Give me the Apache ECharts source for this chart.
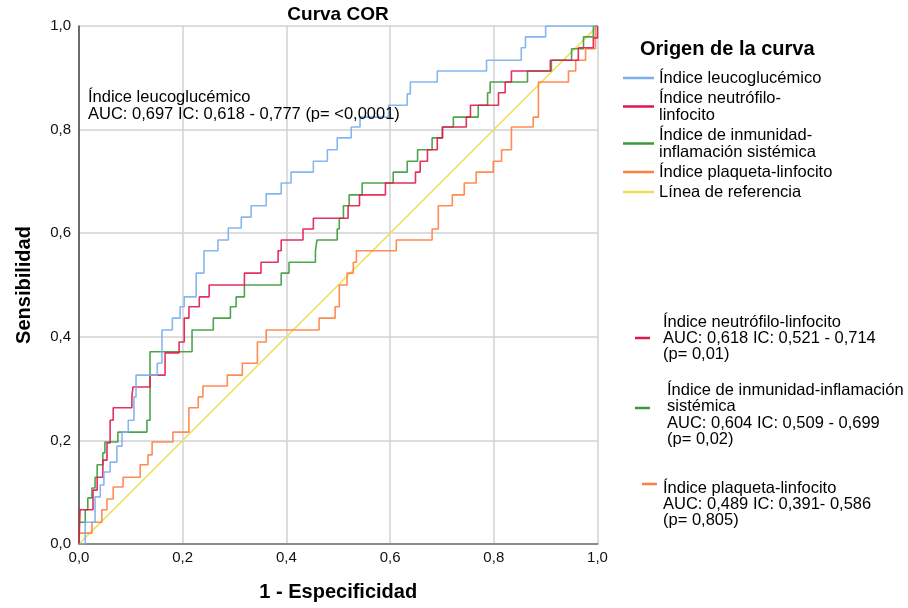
<!DOCTYPE html>
<html>
<head>
<meta charset="utf-8">
<script src="https://cdn.jsdelivr.net/npm/echarts@6/dist/echarts.min.js"></script>
<style>html,body{margin:0;padding:0;background:#fff;}#c{width:908px;height:608px;}</style>
</head>
<body>
<div id="c"></div>
<script>
// ROC step vertices: [1 - especificidad at the jump, sensibilidad after the jump]
const leucoROC = [[0,0],[0.012,0.042],[0.031,0.091],[0.041,0.114],[0.048,0.139],[0.060,0.158],[0.073,0.189],[0.083,0.216],[0.095,0.239],[0.106,0.284],[0.110,0.326],[0.151,0.349],[0.160,0.413],[0.180,0.436],[0.195,0.458],[0.203,0.477],[0.226,0.523],[0.241,0.566],[0.268,0.587],[0.288,0.610],[0.313,0.631],[0.332,0.653],[0.361,0.676],[0.390,0.697],[0.409,0.718],[0.452,0.739],[0.479,0.761],[0.498,0.784],[0.525,0.805],[0.542,0.824],[0.597,0.847],[0.633,0.869],[0.639,0.892],[0.691,0.913],[0.786,0.934],[0.853,0.958],[0.861,0.979],[0.900,1],[1,1]];
const nlrROC = [[0,0],[0.002,0.066],[0.027,0.104],[0.035,0.129],[0.046,0.162],[0.054,0.195],[0.060,0.239],[0.066,0.263],[0.102,0.284],[0.104,0.303],[0.137,0.326],[0.166,0.369],[0.193,0.390],[0.203,0.436],[0.212,0.458],[0.232,0.477],[0.251,0.500],[0.319,0.523],[0.351,0.544],[0.384,0.566],[0.390,0.587],[0.432,0.608],[0.452,0.629],[0.519,0.653],[0.541,0.674],[0.591,0.697],[0.649,0.718],[0.658,0.739],[0.672,0.761],[0.691,0.784],[0.701,0.805],[0.747,0.824],[0.755,0.847],[0.809,0.871],[0.822,0.892],[0.834,0.913],[0.909,0.934],[0.963,0.958],[0.992,0.977],[1,1]];
const siiROC = [[0,0],[0,0.042],[0.012,0.066],[0.017,0.089],[0.025,0.108],[0.031,0.129],[0.035,0.153],[0.046,0.176],[0.050,0.197],[0.075,0.216],[0.131,0.239],[0.137,0.371],[0.218,0.413],[0.259,0.436],[0.292,0.458],[0.303,0.477],[0.319,0.500],[0.390,0.523],[0.405,0.544],[0.456,0.566],[0.459,0.587],[0.498,0.608],[0.502,0.629],[0.510,0.653],[0.521,0.674],[0.546,0.697],[0.606,0.718],[0.633,0.739],[0.653,0.761],[0.681,0.784],[0.701,0.805],[0.722,0.824],[0.770,0.847],[0.788,0.871],[0.793,0.892],[0.865,0.913],[0.911,0.934],[0.950,0.956],[0.973,0.979],[0.992,1],[1,1]];
const plrROC = [[0,0],[0,0.021],[0.025,0.042],[0.044,0.066],[0.054,0.087],[0.066,0.110],[0.085,0.129],[0.118,0.153],[0.133,0.172],[0.141,0.197],[0.181,0.216],[0.212,0.263],[0.230,0.284],[0.239,0.305],[0.286,0.326],[0.315,0.349],[0.344,0.390],[0.361,0.413],[0.463,0.436],[0.494,0.458],[0.502,0.500],[0.517,0.523],[0.529,0.544],[0.535,0.566],[0.612,0.587],[0.681,0.608],[0.693,0.653],[0.720,0.674],[0.743,0.697],[0.766,0.718],[0.799,0.739],[0.815,0.761],[0.834,0.805],[0.876,0.824],[0.886,0.892],[0.944,0.913],[0.958,0.934],[0.977,0.956],[0.996,1],[1,1]];
const refLine = [[0,0],[1,1]];

const seriesNames = ['Índice leucoglucémico','Índice neutrófilo-\nlinfocito','Índice de inmunidad-\ninflamación sistémica','Índice plaqueta-linfocito','Línea de referencia'];
const seriesColors = ['#7aaeee','#e0194c','#3a9a3a','#ff7f40','#ece05a'];
const seriesData = [leucoROC, nlrROC, siiROC, plrROC, refLine];

const chartTitle = 'Curva COR';
const legendTitle = 'Origen de la curva';
const xName = '1 - Especificidad';
const yName = 'Sensibilidad';
const leucoNote = 'Índice leucoglucémico\nAUC: 0,697 IC: 0,618 - 0,777 (p= <0,0001)';
const nlrNote = 'Índice neutrófilo-linfocito\nAUC: 0,618 IC: 0,521 - 0,714\n(p= 0,01)';
const siiNote = 'Índice de inmunidad-inflamación\nsistémica\nAUC: 0,604 IC: 0,509 - 0,699\n(p= 0,02)';
const plrNote = 'Índice plaqueta-linfocito\nAUC: 0,489 IC: 0,391- 0,586\n(p= 0,805)';

const FONT = '"Liberation Sans", Arial, Helvetica, sans-serif';
const fmt = v => v.toFixed(1).replace('.', ',');

const chart = echarts.init(document.getElementById('c'), null, {renderer: 'canvas'});

const series = seriesData.map((d, i) => ({
  name: seriesNames[i],
  type: 'line',
  data: d,
  step: i < 4 ? 'end' : false,
  showSymbol: false,
  symbol: 'none',
  silent: true,
  z: 10 - i,
  lineStyle: {color: seriesColors[i], width: 1.6, opacity: i < 4 ? 0.9 : 1},
  itemStyle: {color: seriesColors[i]}
}));

chart.setOption({
  animation: false,
  backgroundColor: '#fff',
  textStyle: {fontFamily: FONT},
  grid: {left: 79, right: 310.5, top: 26, bottom: 64, containLabel: false},
  xAxis: {
    type: 'value', min: 0, max: 1, interval: 0.2,
    name: xName, nameLocation: 'middle', nameGap: 38,
    nameTextStyle: {fontFamily: FONT, fontWeight: 'bold', fontSize: 20, color: '#000'},
    axisLine: {show: true, onZero: false, lineStyle: {color: '#8a8a8a', width: 2}},
    axisTick: {show: false},
    axisLabel: {formatter: fmt, fontSize: 15, color: '#111', margin: 6, fontFamily: FONT},
    splitLine: {show: true, lineStyle: {color: '#d2d2d2', width: 1.5}}
  },
  yAxis: {
    type: 'value', min: 0, max: 1, interval: 0.2,
    name: yName, nameLocation: 'middle', nameGap: 45,
    nameTextStyle: {fontFamily: FONT, fontWeight: 'bold', fontSize: 20, color: '#000'},
    axisLine: {show: true, onZero: false, lineStyle: {color: '#444', width: 1.5}},
    axisTick: {show: false},
    axisLabel: {formatter: fmt, fontSize: 15, color: '#111', margin: 8, fontFamily: FONT},
    splitLine: {show: true, lineStyle: {color: '#d2d2d2', width: 1.5}}
  },
  legend: {
    show: true,
    orient: 'vertical',
    left: 623, top: 69.5,
    padding: 0,
    itemWidth: 31, itemHeight: 2.5, itemGap: 3,
    icon: 'rect',
    data: seriesNames,
    selectedMode: false,
    textStyle: {fontFamily: FONT, fontSize: 16.5, lineHeight: 17, color: '#000'}
  },
  graphic: [
    {type: 'text', x: 338, y: 15, style: {text: chartTitle, font: 'bold 19px ' + FONT, fill: '#000', align: 'center', verticalAlign: 'middle'}},
    {type: 'text', x: 640, y: 49, style: {text: legendTitle, font: 'bold 20px ' + FONT, fill: '#000', align: 'left', verticalAlign: 'middle'}},
    {type: 'text', x: 88, y: 88.5, z: 20, style: {text: leucoNote, font: '16.5px ' + FONT, lineHeight: 17, fill: '#000', align: 'left', verticalAlign: 'top'}},
    {type: 'line', shape: {x1: 635, y1: 338, x2: 650, y2: 338}, style: {stroke: seriesColors[1], lineWidth: 2.5}},
    {type: 'text', x: 663, y: 314, style: {text: nlrNote, font: '16.5px ' + FONT, lineHeight: 16, fill: '#000', align: 'left', verticalAlign: 'top'}},
    {type: 'line', shape: {x1: 635, y1: 408, x2: 650, y2: 408}, style: {stroke: seriesColors[2], lineWidth: 2.5}},
    {type: 'text', x: 667, y: 382, style: {text: siiNote, font: '16.5px ' + FONT, lineHeight: 16.5, fill: '#000', align: 'left', verticalAlign: 'top'}},
    {type: 'line', shape: {x1: 642, y1: 484, x2: 657, y2: 484}, style: {stroke: seriesColors[3], lineWidth: 2.5}},
    {type: 'text', x: 663, y: 480, style: {text: plrNote, font: '16.5px ' + FONT, lineHeight: 16, fill: '#000', align: 'left', verticalAlign: 'top'}}
  ],
  series: series
});
</script>
</body>
</html>
